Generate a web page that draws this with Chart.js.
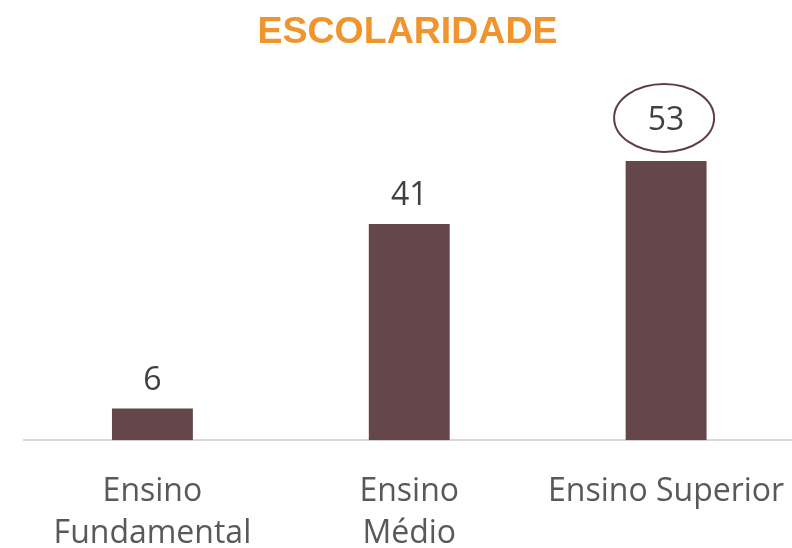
<!DOCTYPE html>
<html>
<head>
<meta charset="utf-8">
<script src="https://cdn.jsdelivr.net/npm/chart.js@4"></script>
<style>
  html, body { margin: 0; padding: 0; background: #fff; overflow: hidden; }
  #wrap { width: 792px; height: 548px; overflow: hidden; }
</style>
</head>
<body>
<div id="wrap"><canvas id="myChart" width="808" height="578"></canvas></div>
<script>
// chart data
const categories = [['Ensino', 'Fundamental'], ['Ensino', 'Médio'], 'Ensino Superior']
const values = [6, 41, 53]
const highlighted = 2 // bar whose label gets the circle

const labelFont = '"Open Sans", "Noto Sans", sans-serif'

// draws the value over each bar, with an ellipse round the highlighted one
const valueLabels = {
    id: 'valueLabels',
    afterDatasetsDraw(chart) {
        const ctx = chart.ctx
        const meta = chart.getDatasetMeta(0)
        ctx.save()
        ctx.font = '32px ' + labelFont
        ctx.fillStyle = '#404040'
        ctx.textAlign = 'center'
        ctx.textBaseline = 'middle'
        meta.data.forEach((bar, i) => {
            let y = bar.y - (i === highlighted ? 40 : 28)
            ctx.fillText(String(values[i]), bar.x, y)
            if (i === highlighted) {
                ctx.beginPath()
                ctx.ellipse(bar.x - 2, y - 3, 50, 34, 0, 0, Math.PI * 2)
                ctx.strokeStyle = '#5e4044'
                ctx.lineWidth = 2
                ctx.stroke()
            }
        })
        ctx.restore()
    }
}

let myChart = document.querySelector('#myChart').getContext('2d')
let escolaridade = new Chart(myChart, {
    type: 'bar',
    data: {
        labels: categories,
        datasets: [{
            data: values,
            backgroundColor: '#654649',
            categoryPercentage: 1,
            barPercentage: 0.315
        }]
    },
    options: {
        responsive: false,
        animation: false,
        devicePixelRatio: 1,
        layout: { padding: { left: 12, right: 5, top: 0, bottom: 0 } },
        plugins: {
            legend: { display: false },
            tooltip: { enabled: false },
            title: {
                display: true,
                text: 'ESCOLARIDADE',
                color: '#f0952e',
                font: { family: '"Liberation Sans", Arial, sans-serif', size: 37.5, weight: 'bold' },
                padding: { top: 10, bottom: 69 }
            }
        },
        scales: {
            x: {
                grid: { display: false },
                border: { display: true, color: '#d9d9d9', width: 2 },
                ticks: {
                    color: '#595959',
                    padding: 23,
                    maxRotation: 0,
                    autoSkip: false,
                    font: { family: labelFont, size: 32, lineHeight: 1.31 }
                }
            },
            y: {
                // hidden axis, only keeps a small gap left of the baseline
                display: true,
                min: 0,
                max: 60,
                ticks: { display: false },
                grid: { display: false },
                border: { display: false },
                afterFit(scale) { scale.width = 12 }
            }
        }
    },
    plugins: [valueLabels]
})
</script>
</body>
</html>
